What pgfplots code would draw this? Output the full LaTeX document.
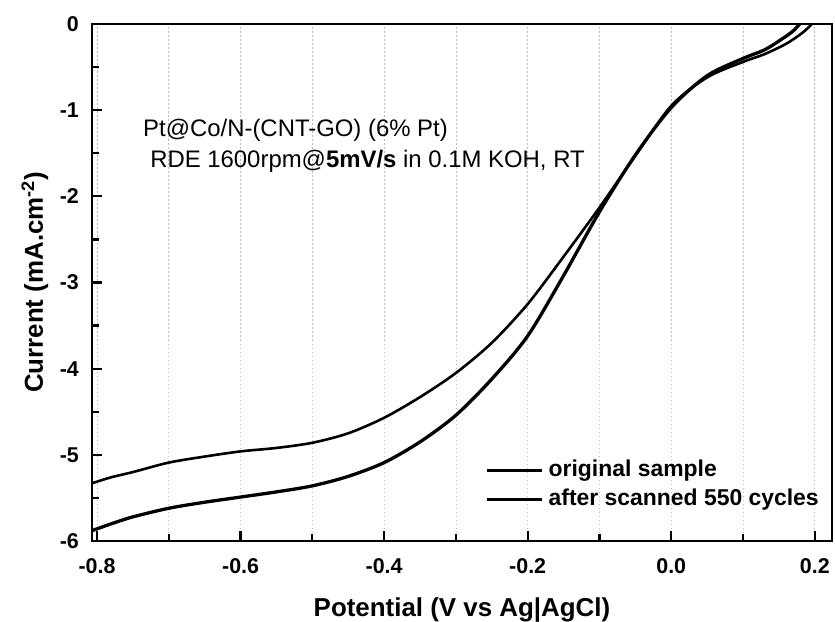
\documentclass[border=0pt]{standalone}
\usepackage{pgfplots}
\pgfplotsset{compat=1.18}
\usepackage{fontspec}
\setmainfont{Liberation Sans}
\begin{document}
\begin{tikzpicture}[x=1bp,y=1bp]
\begin{axis}[
  scale only axis,
  width=740bp, height=517bp,
  xmin=-0.807, xmax=0.224, ymin=-6, ymax=0,
  xtick={-0.8,-0.6,-0.4,-0.2,0,0.2},
  minor x tick num=1,
  ytick={-6,-5,-4,-3,-2,-1,0},
  minor y tick num=1,
  tick align=inside,
  xtick pos=left, ytick pos=left,
  major tick length=10bp, minor tick length=7bp,
  every tick/.style={black, line width=2.2bp},
  axis line style={line width=2.8bp},
  xmajorgrids, xminorgrids,
  grid style={gray!55, line width=0.8bp, dash pattern=on 1.5bp off 2.5bp},
  /pgf/number format/assume math mode=true,
  xticklabel style={font=\fontsize{21.5}{21.5}\selectfont\bfseries, anchor=base, yshift=-32bp,
    /pgf/number format/.cd, fixed, fixed zerofill, precision=1},
  yticklabel style={font=\fontsize{21.5}{21.5}\selectfont\bfseries, anchor=east, inner sep=0pt, xshift=-13bp},
  scaled x ticks=false,
  xlabel={Potential (V vs Ag|AgCl)},
  ylabel={Current (mA.cm\textsuperscript{-2})},
  label style={font=\fontsize{26}{26}\selectfont\bfseries},
  xlabel style={at={(rel axis cs:0.5,0)}, anchor=base, yshift=-75bp},
  ylabel style={at={(rel axis cs:0,0.5)}, anchor=base, yshift=49bp},
  legend style={draw=none, fill=none, inner sep=0pt, at={(axis cs:-0.2592,-5.06)}, anchor=north west,
    font=\fontsize{23}{23}\selectfont\bfseries, row sep=8bp,
    nodes={inner sep=0pt, text height=16bp, text depth=5bp},
    /tikz/every odd column/.append style={column sep=5bp}},
  legend cell align=left,
  legend image code/.code={\draw[#1] (0bp,0bp) -- (55bp,0bp);},
]
\addplot[black, line width=3.3bp, smooth] coordinates {
(-0.807,-5.88) (-0.78,-5.80) (-0.75,-5.72) (-0.70,-5.62) (-0.65,-5.55) (-0.60,-5.49)
(-0.55,-5.43) (-0.50,-5.36) (-0.45,-5.25) (-0.40,-5.09) (-0.35,-4.85) (-0.30,-4.54)
(-0.25,-4.12) (-0.20,-3.62) (-0.15,-2.92) (-0.10,-2.18) (-0.05,-1.52) (0.00,-0.97)
(0.05,-0.60) (0.10,-0.40) (0.13,-0.30) (0.155,-0.17) (0.17,-0.08) (0.18,0.01)
};
\addlegendentry{original sample}
\addplot[black, line width=2.6bp, smooth] coordinates {
(-0.807,-5.33) (-0.78,-5.26) (-0.75,-5.20) (-0.70,-5.09) (-0.65,-5.02) (-0.60,-4.96)
(-0.55,-4.92) (-0.50,-4.86) (-0.45,-4.75) (-0.40,-4.57) (-0.35,-4.33) (-0.30,-4.05)
(-0.25,-3.70) (-0.20,-3.25) (-0.15,-2.70) (-0.10,-2.13) (-0.05,-1.53) (0.00,-0.95)
(0.05,-0.62) (0.10,-0.44) (0.13,-0.35) (0.16,-0.23) (0.18,-0.12) (0.19,-0.05) (0.198,0.02)
};
\addlegendentry{after scanned 550 cycles}
\node[anchor=base west, inner sep=0pt, font=\fontsize{24}{24}\selectfont] at (axis cs:-0.7359,-1.311) {Pt@Co/N-(CNT-GO) (6\% Pt)};
\node[anchor=base west, inner sep=0pt, font=\fontsize{24}{24}\selectfont] at (axis cs:-0.7261,-1.66) {RDE 1600rpm@\textbf{5mV/s} in 0.1M KOH, RT};
\end{axis}
\pgfresetboundingbox
\path[use as bounding box] (current axis.south west) ++(-92bp,-81bp) rectangle ++(835bp,622bp);
\end{tikzpicture}
\end{document}
